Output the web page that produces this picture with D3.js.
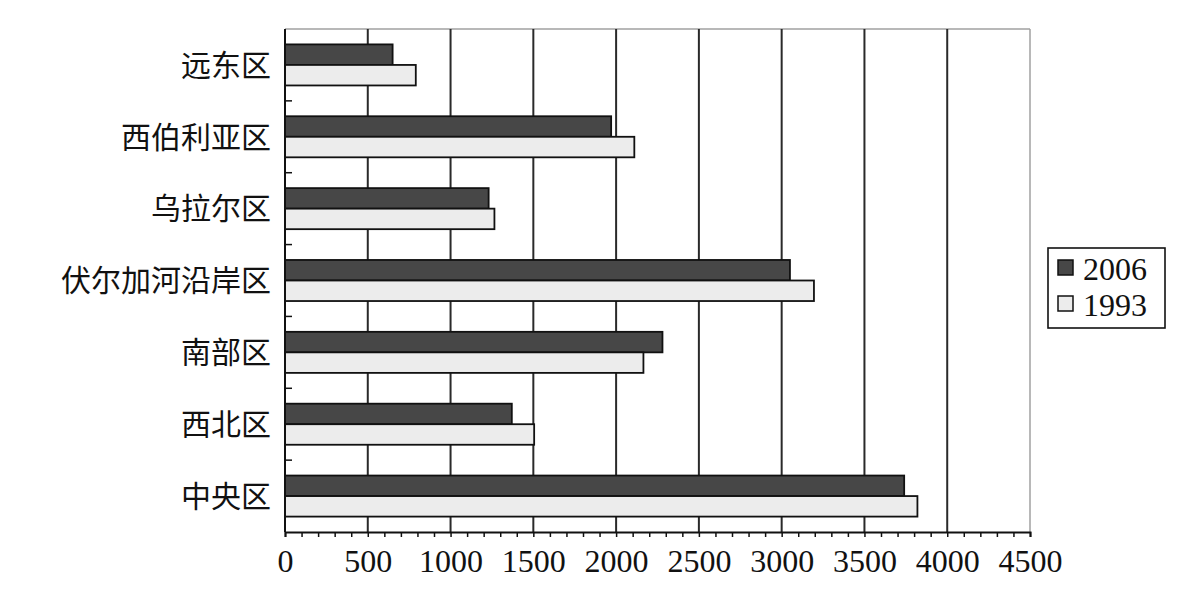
<!DOCTYPE html>
<html>
<head>
<meta charset="utf-8">
<script src="https://cdn.jsdelivr.net/npm/d3@7"></script>
<style>
  body { margin: 0; background: #ffffff; }
</style>
</head>
<body>
<div id="viz"></div>
<script>
const regions = ["远东区", "西伯利亚区", "乌拉尔区", "伏尔加河沿岸区", "南部区", "西北区", "中央区"]
const series = ["2006", "1993"]
const values2006 = [650, 1970, 1230, 3050, 2280, 1370, 3740]
const values1993 = [790, 2110, 1265, 3195, 2165, 1505, 3820]
const xTicks = [0, 500, 1000, 1500, 2000, 2500, 3000, 3500, 4000, 4500]
const colors = { "2006": "#474747", "1993": "#ececec" }

const width = 1184
const height = 594

const svg = d3.select("#viz").append("svg")
  .attr("width", width)
  .attr("height", height)
  .style("background-color", "#ffffff")

const plotLeft = 285, plotRight = 1030, plotTop = 29, plotBottom = 532

const x = d3.scaleLinear().domain([0, 4500]).range([plotLeft, plotRight])
const y = d3.scaleBand().domain(regions).range([plotTop, plotBottom])
const yInner = d3.scaleBand().domain(series).range([0, y.bandwidth()]).paddingOuter(0.75)

// frame top + right (grey)
svg.append("line")
  .attr("x1", plotLeft).attr("x2", plotRight).attr("y1", plotTop).attr("y2", plotTop)
  .attr("stroke", "#a0a0a0").attr("stroke-width", 1.5)
svg.append("line")
  .attr("x1", plotRight).attr("x2", plotRight).attr("y1", plotTop).attr("y2", plotBottom)
  .attr("stroke", "#a0a0a0").attr("stroke-width", 1.5)

// gridlines
svg.selectAll(".grid")
  .data(xTicks.filter(d => d > 0 && d < 4500))
  .enter()
  .append("line")
  .attr("x1", d => x(d)).attr("x2", d => x(d))
  .attr("y1", plotTop).attr("y2", plotBottom)
  .attr("stroke", "#2a2a2a")
  .attr("stroke-width", 2)

// bars
const rows = regions.map((r, i) => ({ region: r, "2006": values2006[i], "1993": values1993[i] }))

const groups = svg.selectAll(".row")
  .data(rows)
  .enter()
  .append("g")
  .attr("transform", d => "translate(0," + y(d.region) + ")")

groups.selectAll("rect")
  .data(d => series.map(s => ({ key: s, value: d[s] })))
  .enter()
  .append("rect")
  .attr("x", x(0))
  .attr("y", d => yInner(d.key))
  .attr("width", d => x(d.value) - x(0))
  .attr("height", yInner.bandwidth())
  .attr("fill", d => colors[d.key])
  .attr("stroke", "#111111")
  .attr("stroke-width", 1.8)

// bottom axis
const xAxis = d3.axisBottom(x)
  .tickValues(d3.range(0, 4501, 100))
  .tickSize(5)
  .tickFormat(d => xTicks.includes(d) ? d : "")

const gx = svg.append("g")
  .attr("transform", "translate(0," + plotBottom + ")")
  .call(xAxis)
gx.select(".domain").attr("stroke", "#111").attr("stroke-width", 2)
gx.selectAll(".tick line").attr("stroke", "#111").attr("stroke-width", 1.5)
gx.selectAll(".tick text")
  .attr("font-family", "Liberation Serif")
  .attr("font-size", 32)
  .attr("fill", "#111")
  .attr("dy", "1.0em")

// left axis
svg.append("line")
  .attr("x1", plotLeft).attr("x2", plotLeft).attr("y1", plotTop).attr("y2", plotBottom)
  .attr("stroke", "#111").attr("stroke-width", 2)

svg.selectAll(".ltick")
  .data(regions.slice(1))
  .enter()
  .append("line")
  .attr("x1", plotLeft).attr("x2", plotLeft + 7)
  .attr("y1", d => y(d)).attr("y2", d => y(d))
  .attr("stroke", "#111").attr("stroke-width", 1.5)

svg.selectAll(".ylabel")
  .data(regions)
  .enter()
  .append("text")
  .attr("x", plotLeft - 14)
  .attr("y", d => y(d) + y.bandwidth() / 2)
  .attr("dy", "0.36em")
  .attr("text-anchor", "end")
  .attr("font-family", "Noto Sans CJK SC")
  .attr("font-size", 30)
  .attr("fill", "#111")
  .text(d => d)

// legend
const legend = svg.append("g")
legend.append("rect")
  .attr("x", 1048).attr("y", 248)
  .attr("width", 117).attr("height", 80)
  .attr("fill", "none")
  .attr("stroke", "#111").attr("stroke-width", 1.6)

const items = legend.selectAll(".item")
  .data(series)
  .enter()
  .append("g")
  .attr("transform", (d, i) => "translate(1058," + (260 + i * 36) + ")")

items.append("rect")
  .attr("width", 15).attr("height", 15)
  .attr("fill", d => colors[d])
  .attr("stroke", "#111").attr("stroke-width", 1.5)

items.append("text")
  .attr("x", 25)
  .attr("y", 8)
  .attr("dy", "0.36em")
  .attr("font-family", "Liberation Serif")
  .attr("font-size", 32)
  .attr("fill", "#111")
  .text(d => d)
</script>
</body>
</html>
